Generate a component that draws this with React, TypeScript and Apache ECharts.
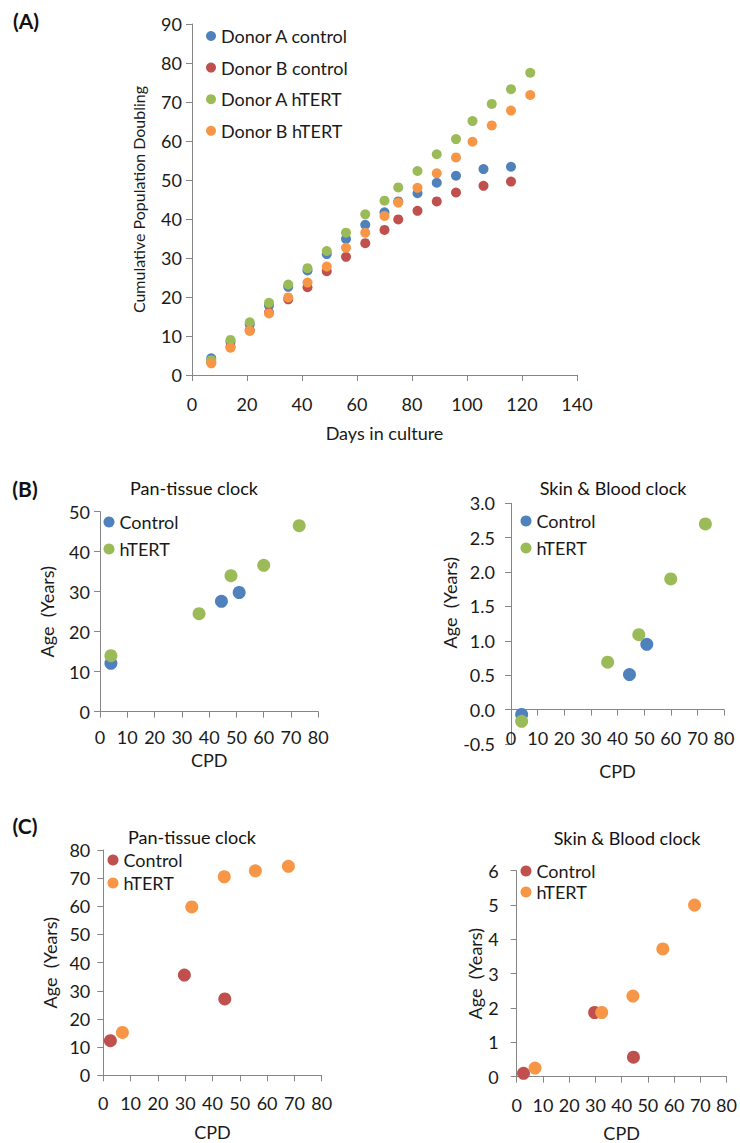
import React, { useEffect, useRef } from "react";
import * as echarts from "echarts";

// ---------- Panel A data ----------
const daysControl = [7, 14, 21, 28, 35, 42, 49, 56, 63, 70, 75, 82, 89, 96, 106, 116];
const donorAControl = [4.3, 8.5, 13.0, 17.8, 22.6, 26.8, 31.0, 34.9, 38.5, 41.7, 44.5, 46.6, 49.3, 51.1, 52.8, 53.4];
const donorBControl = [3.3, 7.2, 11.5, 16.0, 19.4, 22.5, 26.6, 30.3, 33.8, 37.2, 39.9, 42.1, 44.5, 46.8, 48.5, 49.6];
const daysHTERT = [7, 14, 21, 28, 35, 42, 49, 56, 63, 70, 75, 82, 89, 96, 102, 109, 116, 123];
const donorAHTERT = [3.8, 9.0, 13.5, 18.5, 23.2, 27.4, 31.8, 36.5, 41.2, 44.7, 48.1, 52.3, 56.6, 60.5, 65.1, 69.5, 73.3, 77.5];
const donorBHTERT = [3.0, 7.0, 11.3, 15.8, 19.9, 23.7, 27.8, 32.6, 36.5, 40.8, 44.2, 48.0, 51.7, 55.8, 59.8, 64.0, 67.8, 71.8];

// ---------- Panel B data (Donor A) ----------
const cpdBControl = [4, 44.5, 51];
const panBControl = [12.1, 27.6, 29.8];
const skinBControl = [-0.07, 0.51, 0.95];
const cpdBHTERT = [4, 36.3, 48, 60, 73];
const panBHTERT = [14.0, 24.5, 34.0, 36.6, 46.5];
const skinBHTERT = [-0.17, 0.69, 1.09, 1.9, 2.7];

// ---------- Panel C data (Donor B) ----------
const cpdCControl = [2.6, 29.7, 44.5];
const panCControl = [12.3, 35.6, 27.1];
const skinCControl = [0.1, 1.87, 0.57];
const cpdCHTERT = [7, 32.4, 44.3, 55.7, 67.8];
const panCHTERT = [15.2, 59.8, 70.5, 72.6, 74.2];
const skinCHTERT = [0.25, 1.87, 2.35, 3.72, 5.0];

const BLUE = "#4F81BD";
const RED = "#C0504D";
const GREEN = "#9BBB59";
const ORANGE = "#F79646";

const FONT = "Lato";
const TXT = "#1a1a1a";
const AXIS = "#868686";
const FS = 18;

const zip = (xs: number[], ys: number[]) => xs.map((x, i) => [x, ys[i]]);

function xAxisCfg(grid: number, max: number, interval: number, name: string, margin: number, nameGap: number, offset = 0) {
  return {
    type: "value",
    gridIndex: grid,
    min: 0,
    max,
    interval,
    name,
    nameLocation: "middle",
    nameGap,
    offset,
    nameTextStyle: { fontFamily: FONT, fontSize: FS, color: TXT },
    axisLine: { show: true, onZero: false, lineStyle: { color: AXIS, width: 1 } },
    axisTick: { show: true, length: 6, lineStyle: { color: AXIS } },
    axisLabel: { fontFamily: FONT, fontSize: FS, color: TXT, margin },
    splitLine: { show: false },
  };
}

function yAxisCfg(
  grid: number,
  min: number,
  max: number,
  interval: number,
  name: string,
  margin: number,
  nameGap: number,
  nameSize: number,
  decimals?: number,
  namePadding?: number[]
) {
  return {
    type: "value",
    gridIndex: grid,
    min,
    max,
    interval,
    name,
    nameLocation: "middle",
    nameGap,
    nameRotate: 90,
    nameTextStyle: { fontFamily: FONT, fontSize: nameSize, color: TXT, padding: namePadding || 0 },
    axisLine: { show: true, onZero: false, lineStyle: { color: AXIS, width: 1 } },
    axisTick: { show: true, length: 6, lineStyle: { color: AXIS } },
    axisLabel: {
      fontFamily: FONT,
      fontSize: FS,
      color: TXT,
      margin,
      formatter: decimals != null ? (v: number) => v.toFixed(decimals) : undefined,
    },
    splitLine: { show: false },
  };
}

function legendCfg(names: string[], left: number, top: number, gap: number, size: number) {
  return {
    orient: "vertical",
    left,
    top,
    padding: 0,
    icon: "circle",
    itemWidth: size,
    itemHeight: size,
    itemGap: gap,
    selectedMode: false,
    formatter: (n: string) => n.split("#")[0],
    textStyle: { fontFamily: FONT, fontSize: FS, lineHeight: 20, color: TXT },
    data: names,
  };
}

function scatter(name: string, grid: number, data: number[][], color: string, size: number) {
  return {
    type: "scatter",
    name,
    xAxisIndex: grid,
    yAxisIndex: grid,
    data,
    symbolSize: size,
    itemStyle: { color, opacity: 1 },
    emphasis: { disabled: true },
  };
}

function textEl(text: string, x: number, y: number, bold = false, size = FS) {
  return {
    type: "text",
    x,
    y,
    style: {
      text,
      fontFamily: FONT,
      fontSize: size,
      fontWeight: bold ? "bold" : "normal",
      fill: "#111",
      textAlign: "center",
      textVerticalAlign: "middle",
    },
  };
}

export default function App() {
  const ref = useRef<HTMLDivElement>(null);
  useEffect(() => {
    document.body.style.margin = "0";
    const chart = echarts.init(ref.current!, null, { renderer: "svg" });
    chart.setOption({
      animation: false,
      backgroundColor: "#fff",
      grid: [
        { left: 192, top: 24, width: 385, height: 351 },
        { left: 100, top: 511.7, width: 218.3, height: 200 },
        { left: 511, top: 503.3, width: 213, height: 240.7 },
        { left: 103.3, top: 850, width: 218.4, height: 225.3 },
        { left: 516.7, top: 870.7, width: 211, height: 206 },
      ],
      xAxis: [
        xAxisCfg(0, 140, 20, "Days in culture", 20, 49),
        xAxisCfg(1, 80, 10, "CPD", 16, 39),
        // axis drawn where the y value is 0 (crosses at 0 like the source)
        xAxisCfg(2, 80, 10, "CPD", 19, 52, -34.4),
        xAxisCfg(3, 80, 10, "CPD", 18.7, 47.7),
        xAxisCfg(4, 80, 10, "CPD", 19, 47),
      ],
      yAxis: [
        yAxisCfg(0, 0, 90, 10, "Cumulative Population Doubling", 10, 46, 16),
        yAxisCfg(1, 0, 50, 10, "Age  (Years)", 10, 44, FS),
        yAxisCfg(2, -0.5, 3, 0.5, "Age  (Years)", 16, 49, FS, 1, [0, 0, 0, 42]),
        yAxisCfg(3, 0, 80, 10, "Age  (Years)", 13, 44, FS),
        yAxisCfg(4, 0, 6, 1, "Age  (Years)", 18, 33, FS),
      ],
      legend: [
        legendCfg(["Donor A control", "Donor B control", "Donor A hTERT", "Donor B hTERT"], 206, 26, 11.6, 10),
        legendCfg(["Control#B1", "hTERT#B1"], 103.5, 512, 7, 11),
        legendCfg(["Control#B2", "hTERT#B2"], 520.5, 511, 7, 11),
        legendCfg(["Control#C1", "hTERT#C1"], 107.5, 850, 3, 11),
        legendCfg(["Control#C2", "hTERT#C2"], 520.5, 861, 1, 11),
      ],
      series: [
        scatter("Donor A control", 0, zip(daysControl, donorAControl), BLUE, 10),
        scatter("Donor B control", 0, zip(daysControl, donorBControl), RED, 10),
        scatter("Donor A hTERT", 0, zip(daysHTERT, donorAHTERT), GREEN, 10),
        scatter("Donor B hTERT", 0, zip(daysHTERT, donorBHTERT), ORANGE, 10),

        scatter("Control#B1", 1, zip(cpdBControl, panBControl), BLUE, 13),
        scatter("hTERT#B1", 1, zip(cpdBHTERT, panBHTERT), GREEN, 13),
        scatter("Control#B2", 2, zip(cpdBControl, skinBControl), BLUE, 13),
        scatter("hTERT#B2", 2, zip(cpdBHTERT, skinBHTERT), GREEN, 13),

        scatter("Control#C1", 3, zip(cpdCControl, panCControl), RED, 13),
        scatter("hTERT#C1", 3, zip(cpdCHTERT, panCHTERT), ORANGE, 13),
        scatter("Control#C2", 4, zip(cpdCControl, skinCControl), RED, 13),
        scatter("hTERT#C2", 4, zip(cpdCHTERT, skinCHTERT), ORANGE, 13),
      ],
      graphic: [
        textEl("(A)", 26, 20, true, 21),
        textEl("(B)", 25, 488, true, 21),
        textEl("(C)", 25, 825, true, 21),
        textEl("Pan-tissue clock", 194, 488),
        textEl("Skin & Blood clock", 613, 488),
        textEl("Pan-tissue clock", 192, 837),
        textEl("Skin & Blood clock", 627, 838),
      ],
    });
    return () => chart.dispose();
  }, []);
  return <div ref={ref} style={{ width: 740, height: 1143 }} />;
}
